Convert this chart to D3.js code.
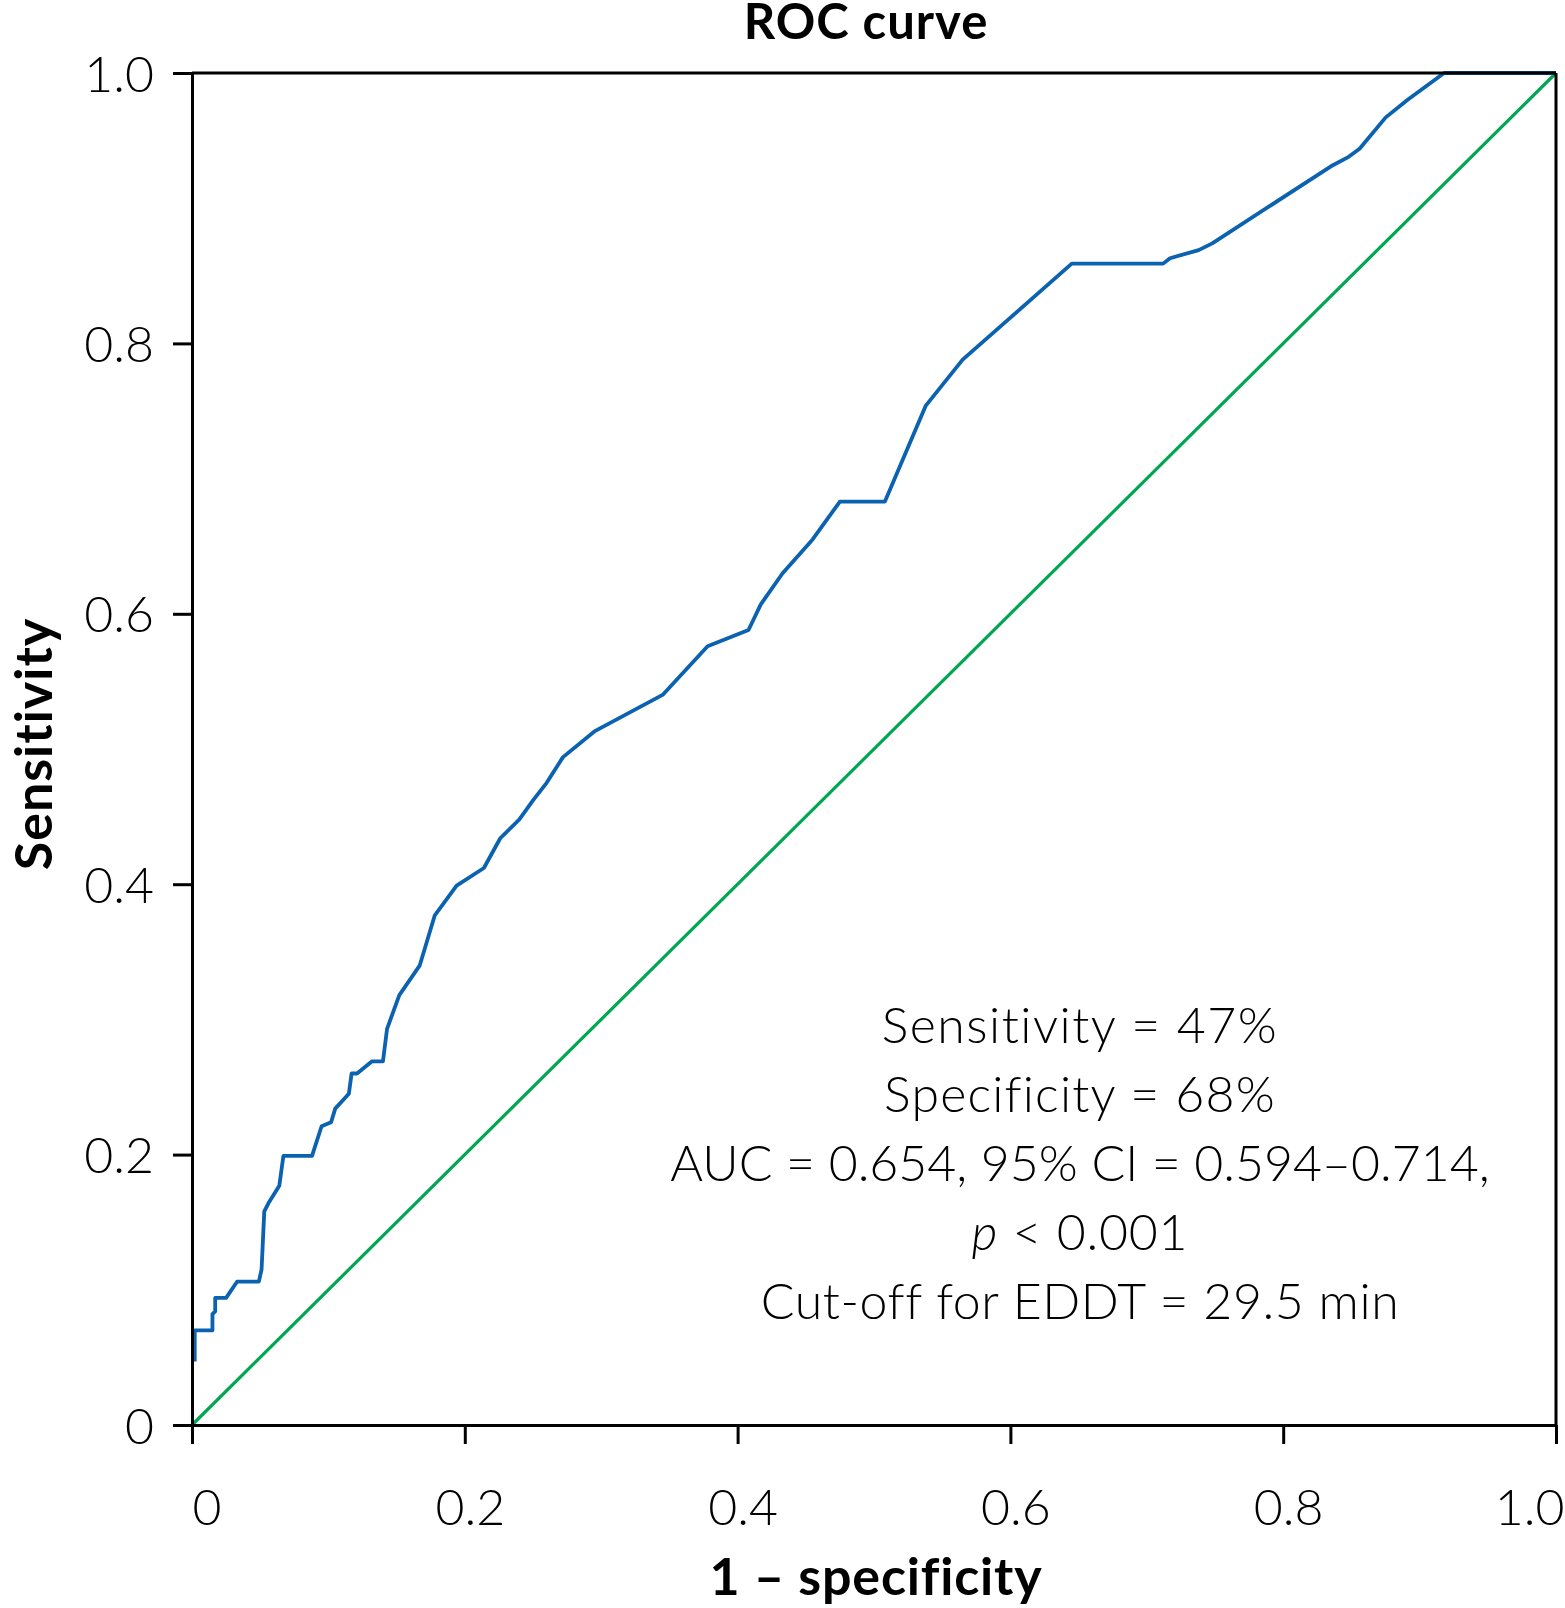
<!DOCTYPE html>
<html>
<head>
<meta charset="utf-8">
<script src="https://cdn.jsdelivr.net/npm/d3@7"></script>
<style>
  html, body { margin: 0; padding: 0; background: #fff; }
  svg { display: block; }
  text { font-family: Lato, "Open Sans", "Noto Sans", sans-serif; fill: #000; }
</style>
</head>
<body>
<svg id="chart" width="1565" height="1608"></svg>
<script>
// ---- data ----
const fpr = [0.002,0.002,0.015,0.015,0.017,0.017,0.025,0.033,0.049,0.051,0.053,0.056,0.064,0.067,0.088,0.095,0.102,0.105,0.115,0.117,0.121,0.132,0.140,0.143,0.152,0.167,0.178,0.194,0.214,0.226,0.240,0.250,0.260,0.272,0.295,0.345,0.378,0.408,0.417,0.433,0.455,0.475,0.508,0.538,0.565,0.645,0.712,0.717,0.738,0.748,0.835,0.848,0.856,0.875,0.891,0.918,1.0];
const tpr = [0.047,0.070,0.070,0.082,0.084,0.094,0.094,0.106,0.106,0.115,0.158,0.164,0.177,0.199,0.199,0.221,0.224,0.234,0.245,0.260,0.260,0.269,0.269,0.293,0.318,0.340,0.377,0.399,0.412,0.434,0.448,0.462,0.475,0.494,0.513,0.540,0.576,0.588,0.607,0.630,0.655,0.683,0.683,0.754,0.788,0.859,0.859,0.863,0.869,0.874,0.931,0.938,0.944,0.967,0.980,1.0,1.0];
const refX = [0, 1];
const refY = [0, 1];
const tickValues = [0, 0.2, 0.4, 0.6, 0.8, 1.0];
const tickLabels = ["0", "0.2", "0.4", "0.6", "0.8", "1.0"];
const titleText = "ROC curve";
const xLabel = "1 \u2013 specificity";
const yLabel = "Sensitivity";
const annotationLines = [
  "Sensitivity = 47%",
  "Specificity = 68%",
  "AUC = 0.654, 95% CI = 0.594\u20130.714,",
  "p < 0.001",
  "Cut-off for EDDT = 29.5 min"
];

// ---- layout ----
(function () {
const svg = d3.select("#chart");
const pL = 192, pR = 1556, pT = 73, pB = 1425;
const x = d3.scaleLinear().domain([0, 1]).range([pL, pR]);
const y = d3.scaleLinear().domain([0, 1]).range([pB, pT]);

// reference diagonal
svg.append("path")
  .datum(refX.map((v, i) => [v, refY[i]]))
  .attr("fill", "none")
  .attr("stroke", "#00a651")
  .attr("stroke-width", 3.2)
  .attr("d", d3.line().x(d => x(d[0])).y(d => y(d[1])));

// ROC curve
svg.append("path")
  .datum(fpr.map((v, i) => [v, tpr[i]]))
  .attr("fill", "none")
  .attr("stroke", "#0a62b0")
  .attr("stroke-width", 3.8)
  .attr("stroke-linejoin", "round")
  .attr("d", d3.line().x(d => x(d[0])).y(d => y(d[1])));

// frame (top and right)
svg.append("line").attr("x1", pL).attr("x2", pR).attr("y1", pT).attr("y2", pT)
  .attr("stroke", "#000").attr("stroke-width", 3);
svg.append("line").attr("x1", pR).attr("x2", pR).attr("y1", pT).attr("y2", pB)
  .attr("stroke", "#000").attr("stroke-width", 3);

// axes
const xAxis = svg.append("g").attr("transform", `translate(0,${pB})`)
  .call(d3.axisBottom(x).tickValues(tickValues).tickSize(19).tickSizeOuter(0)
    .tickFormat((d, i) => tickLabels[i]));
const yAxis = svg.append("g").attr("transform", `translate(${pL},0)`)
  .call(d3.axisLeft(y).tickValues(tickValues).tickSize(19).tickSizeOuter(0)
    .tickFormat((d, i) => tickLabels[i]));

[xAxis, yAxis].forEach(g => {
  g.select(".domain").attr("stroke", "#000").attr("stroke-width", 3);
  g.selectAll(".tick line").attr("stroke", "#000").attr("stroke-width", 3);
  g.selectAll(".tick text")
    .attr("font-family", "Lato, 'Open Sans', sans-serif")
    .attr("font-weight", 300)
    .attr("font-size", 50)
    .attr("fill", "#000");
});
xAxis.selectAll(".tick text").attr("y", 100).attr("dy", null)
  .each(function(d, i) {
    const t = d3.select(this);
    if (i === 0) t.attr("text-anchor", "start").attr("x", 0);
    else if (i === tickValues.length - 1) t.attr("text-anchor", "end").attr("x", 8);
    else t.attr("x", 5);
  });
yAxis.selectAll(".tick text").attr("x", -38).attr("dy", "0.36em");

// title
svg.append("text")
  .attr("x", 866).attr("y", 39)
  .attr("text-anchor", "middle")
  .attr("font-size", 49).attr("font-weight", 700)
  .attr("letter-spacing", 1)
  .text(titleText);

// x label
svg.append("text")
  .attr("x", 876).attr("y", 1595)
  .attr("text-anchor", "middle")
  .attr("font-size", 52).attr("font-weight", 700)
  .attr("letter-spacing", 0.8)
  .text(xLabel);

// y label
svg.append("text")
  .attr("transform", "translate(52,744) rotate(-90)")
  .attr("text-anchor", "middle")
  .attr("font-size", 52).attr("font-weight", 700)
  .attr("letter-spacing", 1)
  .text(yLabel);

// annotation
const ann = svg.append("g");
const baselines = [1043, 1112, 1181, 1250, 1319];
const spacing = [1.5, 1.2, 0, 0.8, 0.6];
annotationLines.forEach((line, i) => {
  const t = ann.append("text")
    .attr("x", 1080).attr("y", baselines[i])
    .attr("text-anchor", "middle")
    .attr("font-size", 50).attr("font-weight", 300)
    .attr("letter-spacing", spacing[i]);
  if (line.startsWith("p <")) {
    t.append("tspan").attr("font-style", "italic").text("p");
    t.append("tspan").text(line.slice(1));
  } else {
    t.text(line);
  }
});
})();
</script>
</body>
</html>
